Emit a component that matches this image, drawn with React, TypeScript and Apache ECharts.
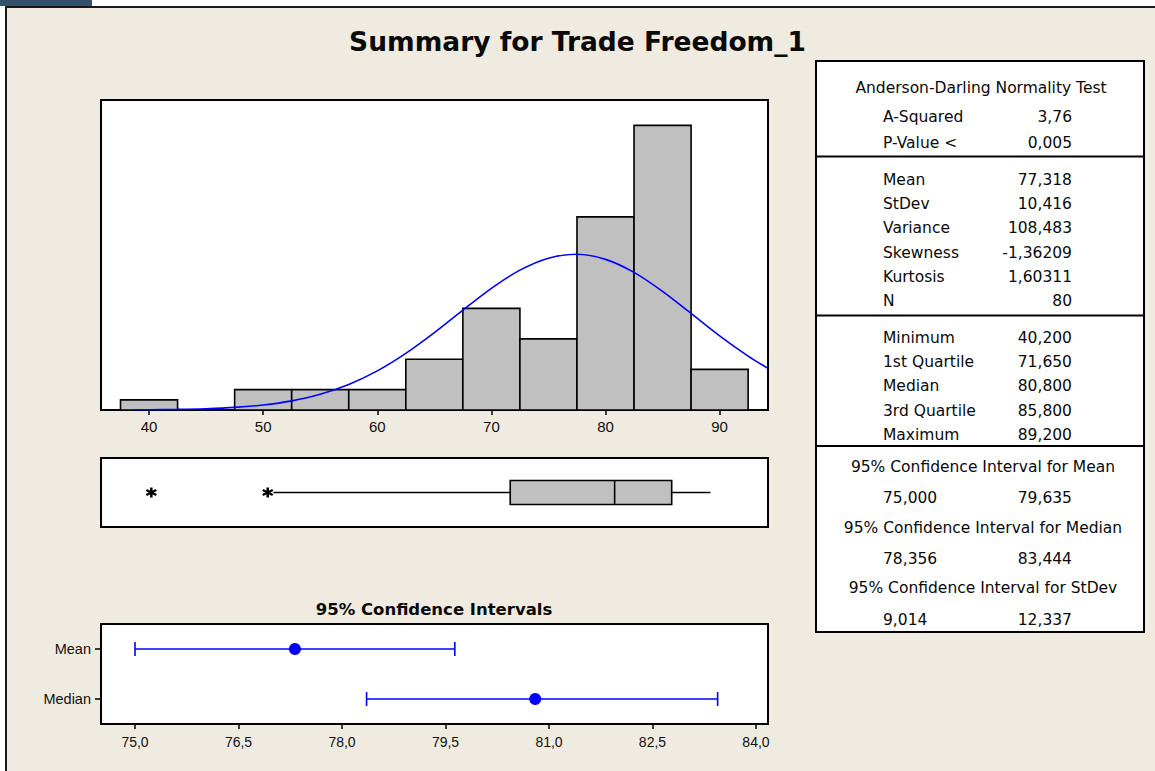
import React, { useEffect, useRef } from 'react';
import * as echarts from 'echarts';

// ---------- data ----------
const binCenters = [40, 45, 50, 55, 60, 65, 70, 75, 80, 85, 90];
const binWidth = 5;
const binCounts = [1, 0, 2, 2, 2, 5, 10, 7, 19, 28, 4];
const histTicks = [40, 50, 60, 70, 80, 90];
const curveX = [38.6, 40, 42.5, 45, 47.5, 50, 52.5, 55, 57.5, 60, 62.5, 65, 67.5, 70, 72.5, 75, 77.5, 80, 82.5, 85, 87.5, 90, 92.5, 94.2];
const curveY = [0.015, 0.025, 0.057, 0.125, 0.254, 0.491, 0.897, 1.544, 2.508, 3.847, 5.569, 7.611, 9.825, 11.97, 13.76, 14.94, 15.32, 14.82, 13.54, 11.67, 9.5, 7.3, 5.3, 4.12];
const boxStats = [50.9, 71.65, 80.8, 85.8, 89.2];
const outliers = [40.2, 50.4];
const ciCategories = ['Mean', 'Median'];
const ciLow = [75.0, 78.356];
const ciHigh = [79.635, 83.444];
const ciPoint = [77.318, 80.8];
const ciTicks = [75.0, 76.5, 78.0, 79.5, 81.0, 82.5, 84.0];

const titleText = 'Summary for Trade Freedom_1';
const ciTitleText = '95% Confidence Intervals';
const adHeader = 'Anderson-Darling Normality Test';
const adLabels = ['A-Squared', 'P-Value <'];
const adValues = ['3,76', '0,005'];
const descLabels = ['Mean', 'StDev', 'Variance', 'Skewness', 'Kurtosis', 'N'];
const descValues = ['77,318', '10,416', '108,483', '-1,36209', '1,60311', '80'];
const quartLabels = ['Minimum', '1st Quartile', 'Median', '3rd Quartile', 'Maximum'];
const quartValues = ['40,200', '71,650', '80,800', '85,800', '89,200'];
const ciHeaders = ['95% Confidence Interval for Mean', '95% Confidence Interval for Median', '95% Confidence Interval for StDev'];
const ciTableLow = ['75,000', '78,356', '9,014'];
const ciTableHigh = ['79,635', '83,444', '12,337'];

// ---------- layout ----------
const W = 1155;
const H = 771;
const CREAM = '#efebe1';
const TEXT = '#0a0a0a';
const TABLE_FONT = '"DejaVu Sans", sans-serif';
const AXIS_FONT = '"Liberation Sans", Arial, sans-serif';

function buildGraphics() {
  const g: any[] = [];
  // white strips outside the frame + dark tab
  g.push({ type: 'rect', shape: { x: 0, y: 0, width: W, height: 6 }, style: { fill: '#ffffff' }, silent: true });
  g.push({ type: 'rect', shape: { x: 0, y: 0, width: 5, height: H }, style: { fill: '#ffffff' }, silent: true });
  g.push({ type: 'rect', shape: { x: 0, y: 0, width: 92, height: 6 }, style: { fill: '#34506f' }, silent: true });
  g.push({ type: 'line', shape: { x1: 5, y1: 7, x2: W, y2: 7 }, style: { stroke: '#1a1a1a', lineWidth: 2 }, silent: true });
  g.push({ type: 'line', shape: { x1: 6, y1: 6, x2: 6, y2: H }, style: { stroke: '#1a1a1a', lineWidth: 2 }, silent: true });

  // title
  g.push({
    type: 'text', x: 577.5, y: 41,
    style: { text: titleText, fill: TEXT, font: `bold 26.5px ${TABLE_FONT}`, align: 'center', verticalAlign: 'middle' },
  });
  // CI title
  g.push({
    type: 'text', x: 434, y: 609,
    style: { text: ciTitleText, fill: TEXT, font: `bold 16.5px ${TABLE_FONT}`, align: 'center', verticalAlign: 'middle' },
  });

  // table box
  const tx0 = 816, tx1 = 1144, ty0 = 61, ty1 = 632;
  g.push({ type: 'rect', shape: { x: tx0, y: ty0, width: tx1 - tx0, height: ty1 - ty0 }, style: { fill: '#ffffff', stroke: '#000', lineWidth: 2 } });
  [156.5, 315.5, 446].forEach((y) => {
    g.push({ type: 'line', shape: { x1: tx0, y1: y, x2: tx1, y2: y }, style: { stroke: '#000', lineWidth: 2 } });
  });

  const labX = 883;
  const valX = 1072;
  const cx = 981;
  const font = `15.5px ${TABLE_FONT}`;
  const txt = (x: number, y: number, s: string, align: string) => ({
    type: 'text', x, y, style: { text: s, fill: TEXT, font, align, verticalAlign: 'middle' },
  });

  g.push(txt(cx, 88, adHeader, 'center'));
  adLabels.forEach((l, i) => {
    const y = 117 + i * 26;
    g.push(txt(labX, y, l, 'left'));
    g.push(txt(valX, y, adValues[i], 'right'));
  });
  descLabels.forEach((l, i) => {
    const y = 179.8 + i * 24.3;
    g.push(txt(labX, y, l, 'left'));
    g.push(txt(valX, y, descValues[i], 'right'));
  });
  quartLabels.forEach((l, i) => {
    const y = 337.8 + i * 24.3;
    g.push(txt(labX, y, l, 'left'));
    g.push(txt(valX, y, quartValues[i], 'right'));
  });
  ciHeaders.forEach((h, i) => {
    const yh = 467 + i * 60.7;
    const yv = 497.8 + i * 61.2;
    g.push(txt(983, yh, h, 'center'));
    g.push(txt(labX, yv, ciTableLow[i], 'left'));
    g.push(txt(valX, yv, ciTableHigh[i], 'right'));
  });
  return g;
}

const STAR = 'path://M0,-5L0,5M-4.33,-2.5L4.33,2.5M-4.33,2.5L4.33,-2.5';

export default function App() {
  const ref = useRef<HTMLDivElement>(null);

  useEffect(() => {
    if (!ref.current) return;
    const chart = echarts.init(ref.current, undefined, { renderer: 'svg' });

    const histData = binCenters.map((c, i) => [c - binWidth / 2, c + binWidth / 2, binCounts[i]]);
    const curveData = curveX.map((x, i) => [x, curveY[i]]);
    const ciData = ciCategories.map((_, i) => [ciLow[i], ciHigh[i], i]);
    const ciPointData = ciCategories.map((_, i) => [ciPoint[i], i]);

    const gridCommon = { show: true, backgroundColor: '#ffffff', borderColor: '#000000', borderWidth: 2, containLabel: false };
    const HX_MIN = 35.79, HX_MAX = 94.24;

    const option: any = {
      animation: false,
      backgroundColor: CREAM,
      grid: [
        { ...gridCommon, left: 101, top: 100, width: 667, height: 310 },
        { ...gridCommon, left: 101, top: 458, width: 667, height: 69 },
        { ...gridCommon, left: 101, top: 624, width: 667, height: 100 },
      ],
      xAxis: [
        {
          type: 'value', gridIndex: 0, min: HX_MIN, max: HX_MAX,
          splitLine: { show: false }, axisLine: { show: false },
          axisTick: { show: true, customValues: histTicks, length: 5, lineStyle: { color: '#000', width: 1.5 } },
          axisLabel: { customValues: histTicks, color: '#111', fontSize: 15, fontFamily: AXIS_FONT, margin: 9, formatter: (v: number) => String(v) },
        },
        {
          type: 'value', gridIndex: 1, min: HX_MIN, max: HX_MAX, show: false,
          splitLine: { show: false },
        },
        {
          type: 'value', gridIndex: 2, min: 74.507, max: 84.174,
          splitLine: { show: false }, axisLine: { show: false },
          axisTick: { show: true, customValues: ciTicks, length: 5, lineStyle: { color: '#000', width: 1.5 } },
          axisLabel: {
            customValues: ciTicks, color: '#111', fontSize: 14, fontFamily: AXIS_FONT, margin: 11,
            formatter: (v: number) => v.toFixed(1).replace('.', ','),
          },
        },
      ],
      yAxis: [
        { type: 'value', gridIndex: 0, min: 0, max: 30.5, show: false, splitLine: { show: false } },
        { type: 'value', gridIndex: 1, min: 0, max: 1, show: false, splitLine: { show: false } },
        {
          type: 'category', gridIndex: 2, data: ciCategories, inverse: true,
          axisLine: { show: false },
          axisTick: { show: true, alignWithLabel: true, length: 6, lineStyle: { color: '#000', width: 1.5 } },
          axisLabel: { color: '#111', fontSize: 14.5, fontFamily: AXIS_FONT, margin: 10 },
          splitLine: { show: false },
        },
      ],
      graphic: { elements: buildGraphics() },
      series: [
        {
          type: 'custom', xAxisIndex: 0, yAxisIndex: 0, data: histData,
          encode: { x: [0, 1], y: 2 },
          renderItem: (params: any, api: any) => {
            const lo = api.value(0), hi = api.value(1), n = api.value(2);
            if (!(n > 0)) return { type: 'group', children: [] };
            const p0 = api.coord([lo, n]);
            const p1 = api.coord([hi, 0]);
            return {
              type: 'rect',
              shape: { x: p0[0], y: p0[1], width: p1[0] - p0[0], height: p1[1] - p0[1] },
              style: { fill: '#c0c0c0', stroke: '#000', lineWidth: 1.6 },
            };
          },
          z: 2,
        },
        {
          type: 'line', xAxisIndex: 0, yAxisIndex: 0, data: curveData,
          smooth: 0.3, showSymbol: false, symbol: 'none',
          lineStyle: { color: '#0000ff', width: 1.6 }, z: 5,
        },
        {
          type: 'custom', xAxisIndex: 1, yAxisIndex: 1, data: [boxStats],
          encode: { x: [0, 1, 2, 3, 4] },
          renderItem: (params: any, api: any) => {
            const v = [0, 1, 2, 3, 4].map((i) => api.value(i));
            const c = v.map((x) => api.coord([x, 0.5]));
            const y = c[0][1];
            const h = 12;
            const st = { stroke: '#000', lineWidth: 1.6 };
            return {
              type: 'group',
              children: [
                { type: 'line', shape: { x1: c[0][0], y1: y, x2: c[1][0], y2: y }, style: st },
                { type: 'rect', shape: { x: c[1][0], y: y - h, width: c[3][0] - c[1][0], height: 2 * h }, style: { fill: '#c0c0c0', stroke: '#000', lineWidth: 1.6 } },
                { type: 'line', shape: { x1: c[2][0], y1: y - h, x2: c[2][0], y2: y + h }, style: st },
                { type: 'line', shape: { x1: c[3][0], y1: y, x2: c[4][0], y2: y }, style: st },
              ],
            };
          },
        },
        {
          type: 'scatter', xAxisIndex: 1, yAxisIndex: 1,
          data: outliers.map((v) => [v, 0.5]),
          symbol: STAR, symbolSize: 10,
          itemStyle: { color: '#000', borderColor: '#000', borderWidth: 2.5, opacity: 1 },
          z: 4,
        },
        {
          type: 'custom', xAxisIndex: 2, yAxisIndex: 2, data: ciData,
          encode: { x: [0, 1], y: 2 },
          renderItem: (params: any, api: any) => {
            const lo = api.value(0), hi = api.value(1), k = api.value(2);
            const a = api.coord([lo, k]);
            const b = api.coord([hi, k]);
            const y = a[1];
            const h = 7;
            const st = { stroke: '#0000ff', lineWidth: 1.6 };
            return {
              type: 'group',
              children: [
                { type: 'line', shape: { x1: a[0], y1: y, x2: b[0], y2: y }, style: st },
                { type: 'line', shape: { x1: a[0], y1: y - h, x2: a[0], y2: y + h }, style: st },
                { type: 'line', shape: { x1: b[0], y1: y - h, x2: b[0], y2: y + h }, style: st },
              ],
            };
          },
        },
        {
          type: 'scatter', xAxisIndex: 2, yAxisIndex: 2, data: ciPointData,
          symbol: 'circle', symbolSize: 12,
          itemStyle: { color: '#0000ff', opacity: 1 }, z: 5,
        },
      ],
    };

    chart.setOption(option);
    return () => chart.dispose();
  }, []);

  return <div ref={ref} style={{ position: 'fixed', left: 0, top: 0, width: W, height: H }} />;
}
